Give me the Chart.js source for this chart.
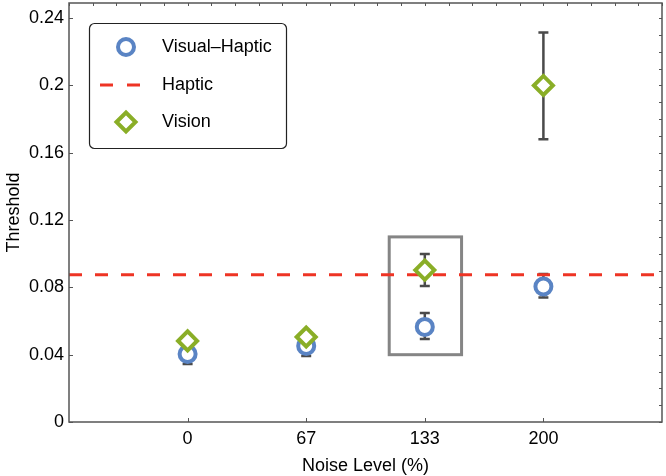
<!DOCTYPE html>
<html>
<head>
<meta charset="utf-8">
<script src="https://cdn.jsdelivr.net/npm/chart.js@4"></script>
<style>
  html, body { margin: 0; padding: 0; background: #fff; }
</style>
</head>
<body>
<canvas id="myChart" width="666" height="476"></canvas>
<script>
const noiseLabels = ['0', '67', '133', '200'];
const visualHaptic = [0.0404, 0.0452, 0.0565, 0.0805];
const visualHapticLow = [0.0345, 0.0392, 0.0493, 0.0740];
const visualHapticHigh = [0.0463, 0.0512, 0.0648, 0.0880];
const vision = [0.0482, 0.0505, 0.0903, 0.2000];
const visionLow = [0.0457, 0.0480, 0.0808, 0.1680];
const visionHigh = [0.0507, 0.0530, 0.0998, 0.2315];
const hapticLevel = 0.0875;
const yTicks = [0, 0.04, 0.08, 0.12, 0.16, 0.2, 0.24];
// grey box around the 133 condition (x in category units)
const highlightX = [1.7, 2.31];
const highlightY = [0.04, 0.11];

const blue = '#5a84c4';
const green = '#8aae27';
const red = '#ee3424';
const fontFamily = '"Liberation Sans", Arial, sans-serif';

function chart() {
    // error bars + highlight box, drawn under the markers
    const underlay = {
        id: 'underlay',
        beforeDatasetsDraw(c) {
            const ctx = c.ctx, x = c.scales.x, y = c.scales.y;
            ctx.save();
            ctx.strokeStyle = '#858585';
            ctx.lineWidth = 3;
            ctx.strokeRect(x.getPixelForValue(highlightX[0]), y.getPixelForValue(highlightY[1]),
                x.getPixelForValue(highlightX[1]) - x.getPixelForValue(highlightX[0]),
                y.getPixelForValue(highlightY[0]) - y.getPixelForValue(highlightY[1]));
            ctx.strokeStyle = '#4a4a4a';
            ctx.lineWidth = 2.5;
            const bars = [[visualHapticLow, visualHapticHigh], [visionLow, visionHigh]];
            bars.forEach(([lo, hi]) => {
                for (let i = 0; i < lo.length; i++) {
                    const px = x.getPixelForValue(i);
                    const y0 = y.getPixelForValue(lo[i]), y1 = y.getPixelForValue(hi[i]);
                    ctx.beginPath();
                    ctx.moveTo(px, y0); ctx.lineTo(px, y1);
                    ctx.moveTo(px - 5, y0); ctx.lineTo(px + 5, y0);
                    ctx.moveTo(px - 5, y1); ctx.lineTo(px + 5, y1);
                    ctx.stroke();
                }
            });
            ctx.restore();
        }
    };

    // frame, inward ticks and the legend
    const overlay = {
        id: 'overlay',
        afterDatasetsDraw(c) {
            const ctx = c.ctx, a = c.chartArea, x = c.scales.x, y = c.scales.y;
            ctx.save();
            ctx.strokeStyle = '#555';
            ctx.lineWidth = 1;
            ctx.beginPath();
            yTicks.forEach((v) => {
                const py = Math.round(y.getPixelForValue(v)) + 0.5;
                ctx.moveTo(a.left, py); ctx.lineTo(a.left + 4, py);
            });
            for (let k = 0; k <= 24; k++) {
                const py = Math.round(y.getPixelForValue(k / 100)) + 0.5;
                ctx.moveTo(a.right, py); ctx.lineTo(a.right - 3, py);
            }
            for (let k = -5; k <= 20; k++) {
                const px = Math.round(x.getPixelForValue(k / 5)) + 0.5;
                ctx.moveTo(px, a.top); ctx.lineTo(px, a.top + 3);
            }
            noiseLabels.forEach((_, i) => {
                const px = Math.round(x.getPixelForValue(i)) + 0.5;
                ctx.moveTo(px, a.bottom); ctx.lineTo(px, a.bottom - 4);
            });
            ctx.stroke();
            ctx.lineWidth = 1.5;
            ctx.strokeRect(a.left, a.top, a.right - a.left, a.bottom - a.top);

            // legend
            ctx.fillStyle = '#fff';
            ctx.strokeStyle = '#222';
            ctx.lineWidth = 1.2;
            ctx.beginPath();
            ctx.roundRect(89.5, 23.5, 197, 125, 5);
            ctx.fill();
            ctx.stroke();

            ctx.lineWidth = 4;
            ctx.strokeStyle = blue;
            Chart.helpers.drawPoint(ctx, { pointStyle: 'circle', radius: 8, borderWidth: 4, rotation: 0 }, 126, 47);
            ctx.strokeStyle = red;
            ctx.lineWidth = 3;
            ctx.beginPath();
            ctx.moveTo(100, 85); ctx.lineTo(113, 85);
            ctx.moveTo(127, 85); ctx.lineTo(140, 85);
            ctx.stroke();
            ctx.lineWidth = 4;
            ctx.strokeStyle = green;
            Chart.helpers.drawPoint(ctx, { pointStyle: 'rectRot', radius: 9.5, borderWidth: 4, rotation: 0 }, 126, 122);

            ctx.fillStyle = '#000';
            ctx.font = '18px ' + fontFamily;
            ctx.textBaseline = 'middle';
            ctx.fillText('Visual\u2013Haptic', 162, 47);
            ctx.fillText('Haptic', 162, 85);
            ctx.fillText('Vision', 162, 122);
            ctx.restore();
        }
    };

    const tickFont = { family: fontFamily, size: 18 };

    let ctx = document.getElementById('myChart').getContext('2d');
    new Chart(ctx, {
        type: 'scatter',
        data: {
            datasets: [{
                type: 'line',
                label: 'Haptic',
                data: [{ x: -1, y: hapticLevel }, { x: 4, y: hapticLevel }],
                borderColor: red,
                borderWidth: 3,
                borderDash: [13, 13],
                pointRadius: 0,
                order: 3,
            }, {
                label: 'Visual-Haptic',
                data: visualHaptic.map((v, i) => ({ x: i, y: v })),
                pointStyle: 'circle',
                pointRadius: 8,
                borderWidth: 4,
                borderColor: blue,
                backgroundColor: '#fff',
                order: 2,
            }, {
                label: 'Vision',
                data: vision.map((v, i) => ({ x: i, y: v })),
                pointStyle: 'rectRot',
                pointRadius: 9.5,
                borderWidth: 4,
                borderColor: green,
                backgroundColor: '#fff',
                order: 1,
            }]
        },
        options: {
            responsive: false,
            animation: false,
            layout: { autoPadding: false, padding: { top: 3, right: 4, left: 0, bottom: 0 } },
            plugins: {
                legend: { display: false },
                tooltip: { enabled: false }
            },
            scales: {
                x: {
                    type: 'linear',
                    min: -1,
                    max: 4,
                    afterBuildTicks: (s) => { s.ticks = noiseLabels.map((_, i) => ({ value: i })); },
                    afterFit: (s) => { s.height = 54; s.paddingLeft = 0; s.paddingRight = 0; },
                    grid: { display: false, drawTicks: false },
                    border: { display: false },
                    ticks: {
                        callback: (v) => noiseLabels[v],
                        font: tickFont,
                        color: '#000',
                        padding: 6,
                        maxRotation: 0,
                        autoSkip: false
                    },
                    title: {
                        display: true,
                        text: 'Noise Level (%)',
                        font: tickFont,
                        color: '#000',
                        padding: { top: 0, bottom: -1 }
                    }
                },
                y: {
                    min: 0,
                    max: 0.249,
                    afterBuildTicks: (s) => { s.ticks = yTicks.map((v) => ({ value: v })); },
                    afterFit: (s) => { s.width = 69; s.paddingTop = 0; s.paddingBottom = 0; },
                    grid: { display: false, drawTicks: false },
                    border: { display: false },
                    ticks: {
                        callback: (v) => String(+v.toFixed(2)),
                        font: tickFont,
                        color: '#000',
                        padding: 5
                    },
                    title: {
                        display: true,
                        text: 'Threshold',
                        font: tickFont,
                        color: '#000',
                        padding: { top: 3, bottom: 0 }
                    }
                }
            }
        },
        plugins: [underlay, overlay]
    });
}

window.addEventListener('DOMContentLoaded', (event) => {
    chart();
});
</script>
</body>
</html>
